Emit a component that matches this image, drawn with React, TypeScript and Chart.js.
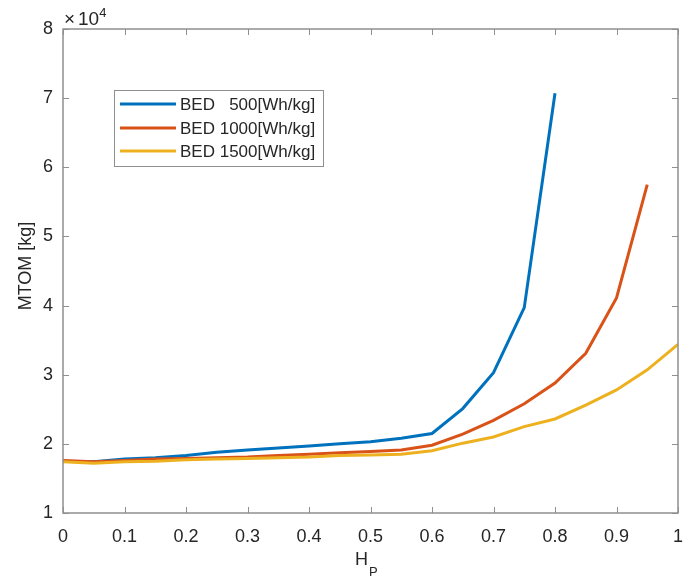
import { useEffect, useRef } from 'react';
import { Chart, registerables } from 'chart.js';
Chart.register(...registerables);

const hp = [0, 0.05, 0.1, 0.15, 0.2, 0.25, 0.3, 0.35, 0.4, 0.45, 0.5, 0.55, 0.6, 0.65, 0.7, 0.75, 0.8, 0.85, 0.9, 0.95, 1.0];
const bed500 = [17500, 17400, 17800, 18000, 18300, 18800, 19100, 19400, 19700, 20000, 20300, 20800, 21500, 25100, 30300, 39700, 70700];
const bed1000 = [17600, 17400, 17600, 17800, 17900, 18000, 18100, 18300, 18500, 18700, 18900, 19100, 19800, 21400, 23400, 25800, 28800, 33100, 41100, 57500];
const bed1500 = [17400, 17200, 17400, 17500, 17700, 17800, 17900, 18000, 18100, 18300, 18400, 18500, 19000, 20100, 21000, 22500, 23600, 25600, 27800, 30700, 34400];
const seriesLabels = ['BED \u2007500[Wh/kg]', 'BED 1000[Wh/kg]', 'BED 1500[Wh/kg]'];
const seriesColors = ['#0072BD', '#D95319', '#EDB120'];
const yTitle = 'MTOM [kg]';
const xTitleMain = 'H';
const xTitleSub = 'P';
const expLabelTimes = '\u00d7';
const expLabelMain = '10';
const expLabelSup = '4';

const FONT = '"Liberation Sans", Arial, sans-serif';
const TEXT = '#262626';
const AXIS = '#8f8f8f';

const pts = (vals: number[]) => vals.map((v, i) => ({ x: hp[i], y: v }));

const decor = {
  id: 'matlabDecor',
  afterDraw(chart: any) {
    const { ctx, chartArea, scales } = chart;
    const { left, right, top, bottom } = chartArea;
    const xs = scales.x, ys = scales.y;
    ctx.save();
    // box
    ctx.strokeStyle = AXIS;
    ctx.lineWidth = 1.5;
    ctx.strokeRect(left, top, right - left, bottom - top);
    // inward ticks
    ctx.beginPath();
    xs.ticks.forEach((t: any) => {
      const px = Math.round(xs.getPixelForValue(t.value)) + 0.5;
      ctx.moveTo(px, bottom); ctx.lineTo(px, bottom - 6);
      ctx.moveTo(px, top); ctx.lineTo(px, top + 6);
    });
    ys.ticks.forEach((t: any) => {
      const py = Math.round(ys.getPixelForValue(t.value)) + 0.5;
      ctx.moveTo(left, py); ctx.lineTo(left + 6, py);
      ctx.moveTo(right, py); ctx.lineTo(right - 6, py);
    });
    ctx.lineWidth = 1;
    ctx.stroke();

    // legend
    const lx = 114, ly = 90, lw = 209, lh = 76;
    ctx.fillStyle = '#ffffff';
    ctx.fillRect(lx, ly, lw, lh);
    ctx.strokeStyle = AXIS;
    ctx.lineWidth = 1;
    ctx.strokeRect(lx + 0.5, ly + 0.5, lw, lh);
    const rows = [104, 128, 151];
    chart.data.datasets.forEach((ds: any, i: number) => {
      const ry = rows[i];
      ctx.strokeStyle = ds.borderColor;
      ctx.lineWidth = 3;
      ctx.beginPath();
      ctx.moveTo(120, ry); ctx.lineTo(176, ry);
      ctx.stroke();
      ctx.fillStyle = TEXT;
      ctx.font = `17px ${FONT}`;
      ctx.textAlign = 'left';
      ctx.textBaseline = 'middle';
      ctx.fillText(ds.label, 180, ry + 1);
    });

    // exponent label
    ctx.fillStyle = TEXT;
    ctx.textAlign = 'left';
    ctx.textBaseline = 'alphabetic';
    ctx.font = `19px ${FONT}`;
    ctx.fillText(expLabelTimes, 64, 25);
    ctx.fillText(expLabelMain, 78, 25);
    const w10 = ctx.measureText(expLabelMain).width;
    ctx.font = `13px ${FONT}`;
    ctx.fillText(expLabelSup, 78 + w10, 17);

    // y title
    ctx.save();
    ctx.translate(26, 266);
    ctx.rotate(-Math.PI / 2);
    ctx.font = `18px ${FONT}`;
    ctx.textAlign = 'center';
    ctx.textBaseline = 'middle';
    ctx.fillText(yTitle, 0, 0);
    ctx.restore();

    // x title with subscript
    ctx.font = `18px ${FONT}`;
    ctx.textAlign = 'left';
    ctx.textBaseline = 'alphabetic';
    ctx.fillText(xTitleMain, 355, 565);
    const wH = ctx.measureText(xTitleMain).width;
    ctx.font = `13px ${FONT}`;
    ctx.fillText(xTitleSub, 355 + wH + 1, 576);
    ctx.restore();
  },
};

export default function App() {
  const ref = useRef<HTMLCanvasElement>(null);
  useEffect(() => {
    const chart = new Chart(ref.current!, {
      type: 'line',
      data: {
        datasets: [
          { label: seriesLabels[0], data: pts(bed500), borderColor: seriesColors[0], backgroundColor: seriesColors[0], borderWidth: 3, pointRadius: 0, tension: 0, order: 3 },
          { label: seriesLabels[1], data: pts(bed1000), borderColor: seriesColors[1], backgroundColor: seriesColors[1], borderWidth: 3, pointRadius: 0, tension: 0, order: 2 },
          { label: seriesLabels[2], data: pts(bed1500), borderColor: seriesColors[2], backgroundColor: seriesColors[2], borderWidth: 3, pointRadius: 0, tension: 0, order: 1 },
        ],
      },
      options: {
        animation: false,
        responsive: true,
        maintainAspectRatio: false,
        layout: { padding: { top: 29, right: 16, left: 0, bottom: 0 } },
        plugins: { legend: { display: false }, tooltip: { enabled: false } },
        scales: {
          x: {
            type: 'linear',
            min: 0,
            max: 1,
            grid: { display: false },
            border: { display: false },
            ticks: {
              stepSize: 0.1,
              padding: 5,
              color: TEXT,
              font: { family: FONT, size: 18 },
              maxRotation: 0,
              callback: (v: any) => String(Number(Number(v).toFixed(1))),
            },
            afterFit: (s: any) => { s.height = 68; },
          },
          y: {
            type: 'linear',
            min: 10000,
            max: 80000,
            grid: { display: false },
            border: { display: false },
            ticks: {
              stepSize: 10000,
              padding: 2,
              color: TEXT,
              font: { family: FONT, size: 18 },
              callback: (v: any) => String(Math.round(Number(v) / 10000)),
            },
            afterFit: (s: any) => { s.width = 63; },
          },
        },
      },
      plugins: [decor],
    });
    return () => chart.destroy();
  }, []);
  return (
    <div style={{ position: 'absolute', left: 0, top: 0, width: 694, height: 581, background: '#fff' }}>
      <canvas ref={ref} />
    </div>
  );
}
